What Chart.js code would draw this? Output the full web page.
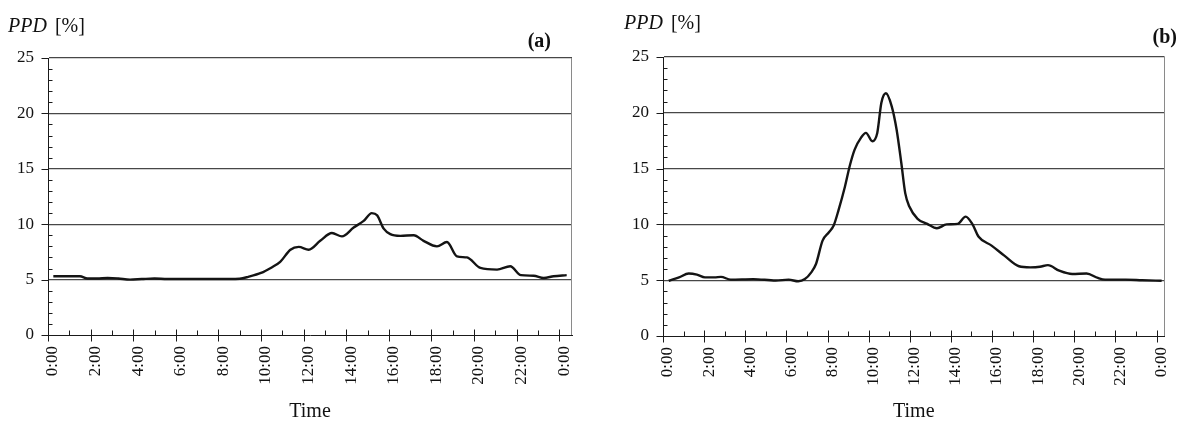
<!DOCTYPE html>
<html><head><meta charset="utf-8">
<script src="https://cdn.jsdelivr.net/npm/chart.js@4.4.1/dist/chart.umd.min.js"></script>
<style>
html,body{margin:0;padding:0;background:#fff;width:1188px;height:423px;overflow:hidden}
canvas{position:absolute;top:0}
</style></head><body>
<canvas id="ca" width="600" height="423" style="left:0"></canvas>
<canvas id="cb" width="588" height="423" style="left:600px"></canvas>
<script>
// ---- data ----
const hoursA = [0.25,1.0,1.5,1.85,2.3,2.8,3.3,3.85,4.4,5.0,5.6,6.5,7.5,8.5,9.0,9.4,10.0,10.5,10.9,11.38,11.77,12.24,12.78,13.33,13.8,14.35,14.82,15.2,15.45,15.76,16.07,16.54,17.17,17.63,18.26,18.73,19.2,19.67,20.3,21.08,21.7,22.2,22.8,23.27,23.74,24.35];
const ppdA   = [5.3,5.3,5.3,5.1,5.1,5.15,5.1,5.0,5.05,5.1,5.05,5.05,5.05,5.05,5.08,5.25,5.6,6.1,6.6,7.7,7.95,7.7,8.5,9.2,8.9,9.7,10.3,11.0,10.8,9.6,9.1,8.95,9.0,8.5,8.0,8.4,7.1,7.0,6.05,5.9,6.2,5.4,5.35,5.15,5.3,5.4];
const hoursB = [0.28,0.78,1.25,1.65,2.04,2.5,2.82,3.29,4.39,5.48,6.11,6.58,6.9,7.21,7.44,7.76,8.07,8.3,8.54,8.85,9.09,9.32,9.64,9.87,10.18,10.42,10.62,10.84,11.12,11.36,11.59,11.78,11.98,12.38,12.85,13.32,13.79,14.33,14.72,15.04,15.35,15.98,16.6,17.31,17.86,18.33,18.72,19.27,19.9,20.6,21.15,21.5,22.5,23.3,24.25];
const ppdB   = [4.95,5.25,5.6,5.5,5.25,5.25,5.3,5.05,5.1,4.97,5.05,4.9,5.1,5.7,6.45,8.55,9.3,9.9,11.3,13.4,15.3,16.7,17.8,18.2,17.45,18.2,20.9,21.75,20.6,18.5,15.5,12.8,11.6,10.5,10.05,9.65,10.0,10.05,10.7,10.05,8.9,8.1,7.2,6.25,6.15,6.2,6.35,5.85,5.55,5.6,5.2,5.05,5.05,5.0,4.95];
const xTickHours  = [0,2,4,6,8,10,12,14,16,18,20,22,24];
const xTickLabels = ['0:00','2:00','4:00','6:00','8:00','10:00','12:00','14:00','16:00','18:00','20:00','22:00','0:00'];
const yTicks = [0,5,10,15,20,25];
const yLabel = ['PPD','[%]'];
const xLabel = 'Time';

const FONT = '"Liberation Serif", "Times New Roman", serif';

const decor = {
  id:'decor',
  afterDraw(chart, args, o){
    const {ctx, chartArea:a, scales:{x,y}} = chart;
    ctx.save();
    ctx.lineWidth = 1;
    // right frame line
    ctx.strokeStyle = '#8a8a8a';
    const rx = Math.round(a.right)-0.5;
    ctx.beginPath(); ctx.moveTo(rx, Math.round(y.getPixelForValue(25))); ctx.lineTo(rx, Math.round(y.getPixelForValue(0))); ctx.stroke();
    ctx.strokeStyle = '#1a1a1a';
    const ay = Math.round(y.getPixelForValue(0))+0.5;
    for (let h=0; h<=24; h++){
      const px = Math.round(x.getPixelForValue(h))+0.5;
      ctx.beginPath();
      if (h%2===0){ ctx.moveTo(px, ay-6); ctx.lineTo(px, ay+6); }
      else { ctx.moveTo(px, ay-5); ctx.lineTo(px, ay); }
      ctx.stroke();
    }
    const ax = Math.round(x.getPixelForValue(0))+0.5;
    for (let v=0; v<=25; v++){
      const py = Math.round(y.getPixelForValue(v))+0.5;
      ctx.beginPath();
      if (v%5===0){ ctx.moveTo(ax-7, py); ctx.lineTo(ax, py); }
      else { ctx.moveTo(ax, py); ctx.lineTo(ax+4, py); }
      ctx.stroke();
    }
    ctx.fillStyle = '#111';
    ctx.textBaseline = 'alphabetic';
    ctx.textAlign = 'left';
    ctx.font = 'italic 20px ' + FONT;
    ctx.fillText(yLabel[0], o.ppdX, o.ppdY);
    const w = ctx.measureText(yLabel[0]).width;
    ctx.font = '20px ' + FONT;
    ctx.fillText(yLabel[1], o.ppdX + w + 8, o.ppdY);
    ctx.font = 'bold 20px ' + FONT;
    ctx.textAlign = 'right';
    ctx.fillText(o.tag, o.tagX, o.tagY);
    ctx.restore();
  }
};

function makeChart(id, hours, vals, L){
  const pts = hours.map((h,i)=>({x:h, y:vals[i]}));
  return new Chart(document.getElementById(id), {
    type:'line',
    data:{ datasets:[{ data:pts, borderColor:'#141414', borderWidth:2.4, pointRadius:0, fill:false, tension:0.4, cubicInterpolationMode:'monotone' }]},
    options:{
      responsive:false, animation:false, devicePixelRatio:1,
      layout:{ padding:{ left:0, top:L.top, right:L.right, bottom:0 } },
      plugins:{ legend:{display:false}, tooltip:{enabled:false}, decor:L.decor },
      scales:{
        x:{ type:'linear', min:0, max:L.xMax,
          afterBuildTicks(s){ s.ticks = xTickHours.map(v=>({value:v})); },
          afterFit(s){ s.height = L.xH; },
          grid:{ display:false, drawTicks:false },
          border:{ display:true, color:'#1a1a1a', width:1 },
          ticks:{ autoSkip:false, minRotation:90, maxRotation:90, padding:11, labelOffset:5, color:'#111',
            font:{ family:FONT, size:17 },
            callback(v){ const i = xTickHours.indexOf(v); return i>=0 ? xTickLabels[i] : ''; } },
          title:{ display:true, text:xLabel, color:'#111', font:{ family:FONT, size:20, lineHeight:1 }, padding:{ top:0, bottom:1 } }
        },
        y:{ type:'linear', min:0, max:25,
          afterBuildTicks(s){ s.ticks = yTicks.map(v=>({value:v})); },
          afterFit(s){ s.width = L.yW; },
          grid:{ drawTicks:false, color:(c)=> c.tick && c.tick.value===0 ? 'rgba(0,0,0,0)' : '#474747', lineWidth:1.2 },
          border:{ display:true, color:'#1a1a1a', width:1 },
          ticks:{ padding:14, color:'#111', font:{ family:FONT, size:17 } }
        }
      }
    },
    plugins:[decor]
  });
}

makeChart('ca', hoursA, ppdA, { top:58, right:28, xH:88, yW:48, xMax:24.6,
  decor:{ ppdX:8, ppdY:32, tag:'(a)', tagX:551, tagY:47 } });
makeChart('cb', hoursB, ppdB, { top:57, right:6, xH:87, yW:63, xMax:24.39,
  decor:{ ppdX:24, ppdY:29, tag:'(b)', tagX:577, tagY:43 } });
</script>
</body></html>
